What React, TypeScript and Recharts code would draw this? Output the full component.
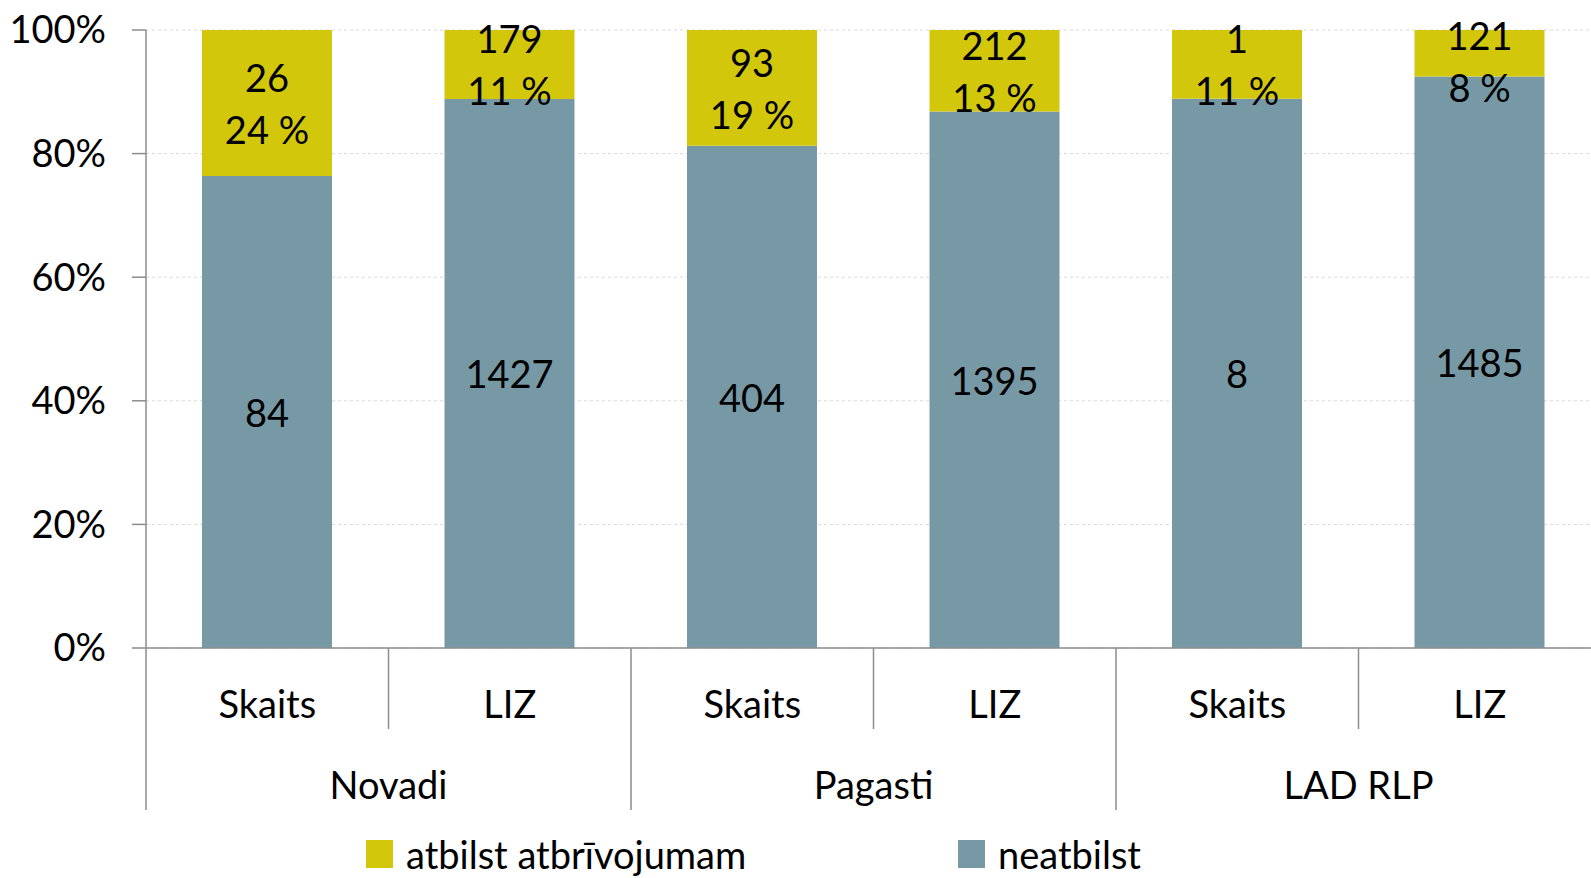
import { BarChart, Bar, XAxis, YAxis, CartesianGrid, Legend, LabelList } from "recharts";

// ---------------------------------------------------------------------------
// Data
// ---------------------------------------------------------------------------

const groups = ["Novadi", "Novadi", "Pagasti", "Pagasti", "LAD RLP", "LAD RLP"];
const subs = ["Skaits", "LIZ", "Skaits", "LIZ", "Skaits", "LIZ"];
const atbilst = [26, 179, 93, 212, 1, 121];
const neatbilst = [84, 1427, 404, 1395, 8, 1485];
const yTicks = [0, 0.2, 0.4, 0.6, 0.8, 1];
const legendOrder = ["atbilst atbrīvojumam", "neatbilst"];

const data = subs.map((s, i) => ({
  sub: s,
  group: groups[i],
  atbilst: atbilst[i],
  neatbilst: neatbilst[i],
}));

// ---------------------------------------------------------------------------
// Layout
// ---------------------------------------------------------------------------

const W = 1601;
const H = 878;
const Y_AXIS_W = 146;
const AXIS_H = 81;
const BAND = (W - Y_AXIS_W) / subs.length;
const FONT = "Lato, 'Noto Sans', sans-serif";
const YELLOW = "#d3c70c";
const GREY = "#7699a5";
const LINE = "#8c8c8c";

function SubTick(props: any) {
  const { x, y, payload, index } = props;
  const left = x - BAND / 2;
  const len = index % 2 === 0 ? AXIS_H * 2 : AXIS_H;
  return (
    <g>
      <line x1={left} x2={left} y1={y} y2={y + len} stroke={LINE} strokeWidth={1.5} />
      <text x={x} y={y + 55} textAnchor="middle" dominantBaseline="central" fontSize={38} fill="#000">
        {payload.value}
      </text>
    </g>
  );
}

function GroupTick(props: any) {
  const { x, y, payload, index } = props;
  if (index % 2 !== 0) return <g />;
  return (
    <text x={x + BAND / 2} y={y + 55} textAnchor="middle" dominantBaseline="central" fontSize={38} fill="#000">
      {payload.value}
    </text>
  );
}

function TopLabel(props: any) {
  const { x, y, width, height, index } = props;
  const a = atbilst[index];
  const pct = Math.round((100 * a) / (a + neatbilst[index]));
  const cx = x + width / 2;
  // keep the two-line label inside the chart top, like Excel does
  const cy = Math.max(y + height / 2, y + 31);
  return (
    <g>
      <text x={cx} y={cy - 26} textAnchor="middle" dominantBaseline="central" fontSize={38} fill="#000">
        {a}
      </text>
      <text x={cx} y={cy + 26} textAnchor="middle" dominantBaseline="central" fontSize={38} fill="#000">
        {pct} %
      </text>
    </g>
  );
}

function BottomLabel(props: any) {
  const { x, y, width, height, value } = props;
  return (
    <text x={x + width / 2} y={y + height / 2} textAnchor="middle" dominantBaseline="central" fontSize={38} fill="#000">
      {value}
    </text>
  );
}

function LegendContent(props: any) {
  const items = [...(props.payload || [])].sort(
    (a: any, b: any) => legendOrder.indexOf(a.value) - legendOrder.indexOf(b.value)
  );
  return (
    <div style={{ display: "flex", alignItems: "center", height: 44, fontFamily: FONT, fontSize: 38 }}>
      {items.map((it: any, i: number) => (
        <span key={i} style={{ display: "flex", alignItems: "center", width: i === 0 ? 592 : "auto", lineHeight: "44px" }}>
          <span style={{ display: "inline-block", width: 27, height: 28, background: it.color, marginRight: 13 }} />
          {it.value}
        </span>
      ))}
    </div>
  );
}

export default function App() {
  return (
    <div style={{ position: "absolute", left: 0, top: 0, width: 1591, height: 878, overflow: "hidden", background: "#fff", fontFamily: FONT }}>
      <BarChart
        width={W}
        height={H}
        data={data}
        stackOffset="expand"
        margin={{ top: 30, right: 0, left: 0, bottom: 24 }}
      >
        <CartesianGrid vertical={false} stroke="#d9d9d9" strokeDasharray="3 3" />
        <YAxis
          width={Y_AXIS_W}
          domain={[0, 1]}
          ticks={yTicks}
          tickFormatter={(v: number) => `${Math.round(v * 100)}%`}
          tick={{ fill: "#000", fontSize: 38 }}
          tickSize={14}
          tickMargin={26}
          stroke={LINE}
          strokeWidth={1.5}
        />
        <XAxis
          dataKey="sub"
          interval={0}
          height={AXIS_H}
          tickLine={false}
          tickSize={0}
          tickMargin={0}
          tick={<SubTick />}
          stroke={LINE}
          strokeWidth={1.5}
        />
        <XAxis
          xAxisId="grp"
          dataKey="group"
          interval={0}
          height={AXIS_H}
          axisLine={false}
          tickLine={false}
          tickSize={0}
          tickMargin={0}
          tick={<GroupTick />}
        />
        <Legend
          content={<LegendContent />}
          wrapperStyle={{ left: 366, top: 832, width: "auto" }}
        />
        <Bar dataKey="neatbilst" name="neatbilst" stackId="a" fill={GREY} barSize={130} isAnimationActive={false}>
          <LabelList dataKey="neatbilst" content={<BottomLabel />} />
        </Bar>
        <Bar dataKey="atbilst" name="atbilst atbrīvojumam" stackId="a" fill={YELLOW} barSize={130} isAnimationActive={false}>
          <LabelList dataKey="atbilst" content={<TopLabel />} />
        </Bar>
      </BarChart>
    </div>
  );
}
